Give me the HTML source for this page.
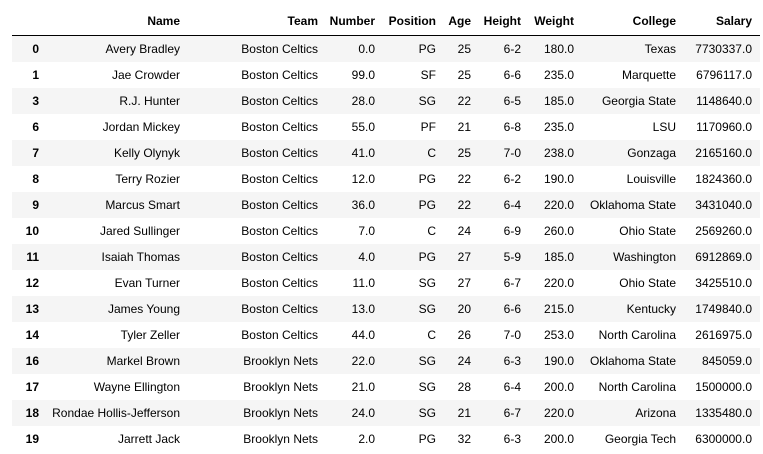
<!DOCTYPE html>
<html><head><meta charset="utf-8"><style>
body{margin:0;width:763px;height:454px;background:#fff;font-family:"Liberation Sans",Arial,sans-serif;font-size:12px;color:#000;overflow:hidden}
.t{position:absolute;left:12px;top:0;width:748px}
.r{position:absolute;left:0;width:748px;height:26px}
.h{top:0;height:35px;border-bottom:1px solid #000}
.r span{position:absolute;white-space:nowrap;text-align:right;line-height:26px}
.h span{top:8px;font-weight:bold;line-height:26px}
.odd{background:#f5f5f5}
.i{font-weight:bold}
</style></head><body>
<div class="t" id="tbl"></div>
<script>
const headers=["","Name","Team","Number","Position","Age","Height","Weight","College","Salary"];
const rights=[27,168,306,363,424,459,509,562,664,740];
const rowsData=[
["0","Avery Bradley","Boston Celtics","0.0","PG","25","6-2","180.0","Texas","7730337.0"],
["1","Jae Crowder","Boston Celtics","99.0","SF","25","6-6","235.0","Marquette","6796117.0"],
["3","R.J. Hunter","Boston Celtics","28.0","SG","22","6-5","185.0","Georgia State","1148640.0"],
["6","Jordan Mickey","Boston Celtics","55.0","PF","21","6-8","235.0","LSU","1170960.0"],
["7","Kelly Olynyk","Boston Celtics","41.0","C","25","7-0","238.0","Gonzaga","2165160.0"],
["8","Terry Rozier","Boston Celtics","12.0","PG","22","6-2","190.0","Louisville","1824360.0"],
["9","Marcus Smart","Boston Celtics","36.0","PG","22","6-4","220.0","Oklahoma State","3431040.0"],
["10","Jared Sullinger","Boston Celtics","7.0","C","24","6-9","260.0","Ohio State","2569260.0"],
["11","Isaiah Thomas","Boston Celtics","4.0","PG","27","5-9","185.0","Washington","6912869.0"],
["12","Evan Turner","Boston Celtics","11.0","SG","27","6-7","220.0","Ohio State","3425510.0"],
["13","James Young","Boston Celtics","13.0","SG","20","6-6","215.0","Kentucky","1749840.0"],
["14","Tyler Zeller","Boston Celtics","44.0","C","26","7-0","253.0","North Carolina","2616975.0"],
["16","Markel Brown","Brooklyn Nets","22.0","SG","24","6-3","190.0","Oklahoma State","845059.0"],
["17","Wayne Ellington","Brooklyn Nets","21.0","SG","28","6-4","200.0","North Carolina","1500000.0"],
["18","Rondae Hollis-Jefferson","Brooklyn Nets","24.0","SG","21","6-7","220.0","Arizona","1335480.0"],
["19","Jarrett Jack","Brooklyn Nets","2.0","PG","32","6-3","200.0","Georgia Tech","6300000.0"]
];
const tbl=document.getElementById('tbl');
const hr=document.createElement('div');hr.className='r h';


headers.forEach((h,c)=>{const s=document.createElement('span');s.textContent=h;s.style.right=(748-rights[c])+'px';


hr.appendChild(s);});
tbl.appendChild(hr);
rowsData.forEach((row,i)=>{const d=document.createElement('div');d.className='r'+(i%2==0?' odd':'');d.style.top=(36+i*26)+'px';


row.forEach((v,c)=>{const s=document.createElement('span');s.textContent=v;if(c==0)s.className='i';s.style.right=(748-rights[c])+'px';


d.appendChild(s);});
tbl.appendChild(d);});
</script>
</body></html>
